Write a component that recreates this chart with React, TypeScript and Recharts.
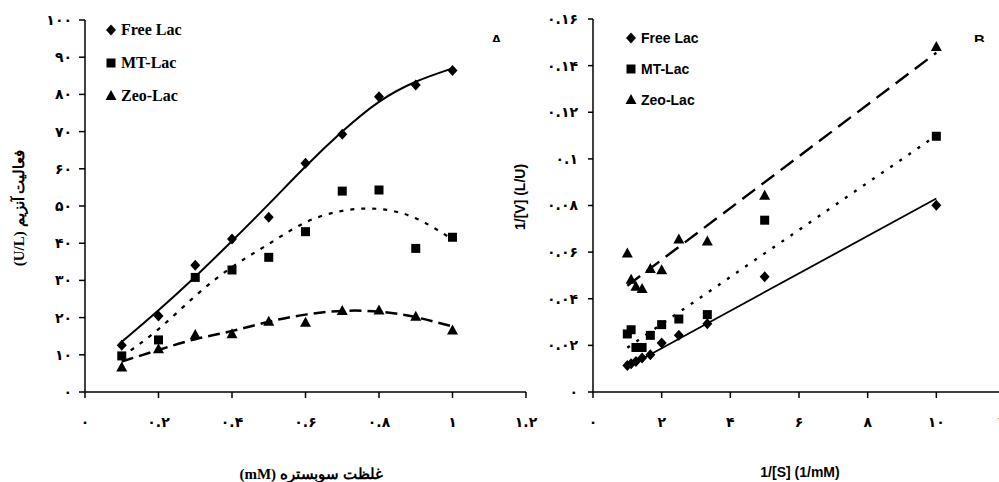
import React from "react";
import { ComposedChart, Scatter, Line, XAxis, YAxis, Legend } from "recharts";

// Panel A: activity vs substrate concentration (mM)
const concA = [0.1, 0.2, 0.3, 0.4, 0.5, 0.6, 0.7, 0.8, 0.9, 1.0];
const freeA = [12.6, 20.4, 34.1, 41.1, 47.0, 61.5, 69.3, 79.4, 82.5, 86.4];
const mtA = [9.7, 14.0, 30.8, 32.8, 36.2, 43.1, 54.0, 54.3, 38.6, 41.6];
const zeoA = [6.6, 11.5, 15.3, 15.5, 18.9, 18.6, 21.8, 21.9, 20.2, 16.5];
// trend curves at the same x values
const freeFitA = [13.5, 22.0, 31.0, 40.6, 50.5, 60.6, 70.0, 78.0, 83.4, 87.0];
const mtFitA = [9.5, 16.9, 25.8, 33.6, 39.8, 45.6, 48.7, 49.2, 46.7, 41.0];
const zeoFitA = [8.2, 11.3, 14.2, 16.4, 18.9, 20.8, 21.8, 21.6, 20.1, 17.6];

// Panel B: Lineweaver-Burk
const invS = [10, 5, 3.33, 2.5, 2, 1.67, 1.43, 1.25, 1.11, 1];
const freeB = [0.0801, 0.0494, 0.0293, 0.0243, 0.021, 0.016, 0.0146, 0.0131, 0.0121, 0.0114];
const mtB = [0.1097, 0.0737, 0.0332, 0.0313, 0.0289, 0.0243, 0.0191, 0.0191, 0.0267, 0.0249];
const zeoB = [0.148, 0.0842, 0.0646, 0.0654, 0.0522, 0.0528, 0.0442, 0.0451, 0.0482, 0.0594];
const fitXB = [1, 10];
const freeFitB = [0.0107, 0.083];
const mtFitB = [0.019, 0.11];
const zeoFitB = [0.0456, 0.1455];

const ticksXA = [0, 0.2, 0.4, 0.6, 0.8, 1, 1.2];
const ticksYA = [0, 10, 20, 30, 40, 50, 60, 70, 80, 90, 100];
const ticksXB = [0, 2, 4, 6, 8, 10, 12];
const ticksYB = [0, 0.02, 0.04, 0.06, 0.08, 0.1, 0.12, 0.14, 0.16];

const seriesNames = ["Free Lac", "MT-Lac", "Zeo-Lac"];

const zip = (xs: number[], ys: number[]) => xs.map((x, i) => ({ x, y: ys[i] }));

const faDigits = "۰۱۲۳۴۵۶۷۸۹";
const fa = (v: number) =>
  String(Number(v.toFixed(2))).replace(/\d/g, (d) => faDigits[Number(d)]);

const Diamond = ({ cx, cy }: any) => (
  <path d={`M${cx},${cy - 5.5}L${cx + 5},${cy}L${cx},${cy + 5.5}L${cx - 5},${cy}Z`} fill="#000" />
);
const Square = ({ cx, cy }: any) => <rect x={cx - 4.5} y={cy - 4.5} width={9} height={9} fill="#000" />;
const Triangle = ({ cx, cy }: any) => (
  <path d={`M${cx},${cy - 6}L${cx + 5.5},${cy + 4}L${cx - 5.5},${cy + 4}Z`} fill="#000" />
);
const shapes: Record<string, any> = { "Free Lac": Diamond, "MT-Lac": Square, "Zeo-Lac": Triangle };

const tickStyle = { fill: "#000", fontSize: 14, fontFamily: "DejaVu Sans", fontWeight: "bold" };
const axisStroke = { stroke: "#000", strokeWidth: 1.5 };

function makeLegend(font: string, size: number, rowH: number) {
  return function LegendList({ payload }: any) {
    const items = (payload || []).filter((p: any) => seriesNames.includes(p.value));
    return (
      <div style={{ fontFamily: font, fontWeight: "bold", fontSize: size, color: "#000" }}>
        {items.map((p: any) => {
          const Shape = shapes[p.value];
          return (
            <div key={p.value} style={{ height: rowH, display: "flex", alignItems: "center" }}>
              <svg width={14} height={14} style={{ marginRight: 3 }}>
                <Shape cx={7} cy={7} />
              </svg>
              <span>{p.value}</span>
            </div>
          );
        })}
      </div>
    );
  };
}

function PanelA() {
  return (
    <ComposedChart width={540} height={482} margin={{ top: 20, right: 14, bottom: 0, left: 0 }}>
      <XAxis
        type="number"
        dataKey="x"
        domain={[0, 1.2]}
        ticks={ticksXA}
        tickFormatter={fa}
        height={90}
        tickSize={6}
        tickMargin={19}
        tick={tickStyle}
        axisLine={axisStroke}
        tickLine={axisStroke}
        interval={0}
      />
      <YAxis
        type="number"
        dataKey="y"
        domain={[0, 100]}
        ticks={ticksYA}
        tickFormatter={fa}
        width={85}
        tickSize={6}
        tickMargin={7}
        tick={tickStyle}
        axisLine={axisStroke}
        tickLine={axisStroke}
        interval={0}
      />
      <Legend
        layout="vertical"
        align="center"
        verticalAlign="middle"
        content={makeLegend("Liberation Serif", 16, 33)}
        wrapperStyle={{ left: 104, top: 13, width: 130, height: 100 }}
      />
      <Line data={zip(concA, freeFitA)} dataKey="y" type="natural" stroke="#000" strokeWidth={2} dot={false} legendType="none" isAnimationActive={false} />
      <Line data={zip(concA, mtFitA)} dataKey="y" type="natural" stroke="#000" strokeWidth={2.2} strokeDasharray="4 7" dot={false} legendType="none" isAnimationActive={false} />
      <Line data={zip(concA, zeoFitA)} dataKey="y" type="natural" stroke="#000" strokeWidth={2.5} strokeDasharray="12 6" dot={false} legendType="none" isAnimationActive={false} />
      <Scatter name="Free Lac" data={zip(concA, freeA)} shape={Diamond} isAnimationActive={false} />
      <Scatter name="MT-Lac" data={zip(concA, mtA)} shape={Square} isAnimationActive={false} />
      <Scatter name="Zeo-Lac" data={zip(concA, zeoA)} shape={Triangle} isAnimationActive={false} />
    </ComposedChart>
  );
}

function PanelB() {
  return (
    <ComposedChart width={540} height={482} margin={{ top: 19, right: 15, bottom: 0, left: 0 }}>
      <XAxis
        type="number"
        dataKey="x"
        domain={[0, 12]}
        ticks={ticksXB}
        tickFormatter={fa}
        height={90}
        tickSize={6}
        tickMargin={19}
        tick={tickStyle}
        axisLine={axisStroke}
        tickLine={axisStroke}
        interval={0}
      />
      <YAxis
        type="number"
        dataKey="y"
        domain={[0, 0.16]}
        ticks={ticksYB}
        tickFormatter={fa}
        width={113}
        tickSize={5}
        tickMargin={10}
        tick={tickStyle}
        axisLine={axisStroke}
        tickLine={axisStroke}
        interval={0}
      />
      <Legend
        layout="vertical"
        align="center"
        verticalAlign="middle"
        content={makeLegend("Liberation Sans", 14, 31)}
        wrapperStyle={{ left: 144, top: 22, width: 120, height: 100 }}
      />
      <Line data={zip(fitXB, freeFitB)} dataKey="y" type="linear" stroke="#000" strokeWidth={1.8} dot={false} legendType="none" isAnimationActive={false} />
      <Line data={zip(fitXB, mtFitB)} dataKey="y" type="linear" stroke="#000" strokeWidth={2.4} strokeDasharray="3 8" dot={false} legendType="none" isAnimationActive={false} />
      <Line data={zip(fitXB, zeoFitB)} dataKey="y" type="linear" stroke="#000" strokeWidth={2.4} strokeDasharray="16 8" dot={false} legendType="none" isAnimationActive={false} />
      <Scatter name="Free Lac" data={zip(invS, freeB)} shape={Diamond} isAnimationActive={false} />
      <Scatter name="MT-Lac" data={zip(invS, mtB)} shape={Square} isAnimationActive={false} />
      <Scatter name="Zeo-Lac" data={zip(invS, zeoB)} shape={Triangle} isAnimationActive={false} />
    </ComposedChart>
  );
}

const letterBox = (left: number, text: string) => (
  <div
    style={{
      position: "absolute",
      left,
      top: 34,
      height: 8,
      overflow: "hidden",
      fontFamily: "Liberation Sans",
      fontWeight: "bold",
      fontSize: 15,
      lineHeight: "15px",
    }}
  >
    <div style={{ marginTop: -2 }}>{text}</div>
  </div>
);

export default function App() {
  return (
    <div
      style={{
        position: "fixed",
        left: 0,
        top: 0,
        width: 999,
        height: 482,
        overflow: "hidden",
        background: "#fff",
      }}
    >
      <div style={{ position: "absolute", left: 0, top: 0 }}>
        <PanelA />
      </div>
      <div style={{ position: "absolute", left: 480, top: 0 }}>
        <PanelB />
      </div>
      <svg width={999} height={482} style={{ position: "absolute", left: 0, top: 0, pointerEvents: "none" }}>
        <text
          transform="translate(24,208) rotate(-90)"
          textAnchor="middle"
          direction="rtl"
          fontFamily="Liberation Serif"
          fontWeight="bold"
          fontSize={15}
        >
          فعالیت آنزیم (U/L)
        </text>
        <text x={311} y={479} textAnchor="middle" direction="rtl" fontFamily="Liberation Serif" fontWeight="bold" fontSize={15}>
          غلظت سوبستره (mM)
        </text>
        <text
          transform="translate(525,197) rotate(-90)"
          textAnchor="middle"
          fontFamily="Liberation Sans"
          fontWeight="bold"
          fontSize={14}
        >
          1/[V] (L/U)
        </text>
        <text x={800} y={477} textAnchor="middle" fontFamily="Liberation Sans" fontWeight="bold" fontSize={14}>
          1/[S] (1/mM)
        </text>
      </svg>
      {letterBox(491, "A")}
      {letterBox(974, "B")}
    </div>
  );
}
